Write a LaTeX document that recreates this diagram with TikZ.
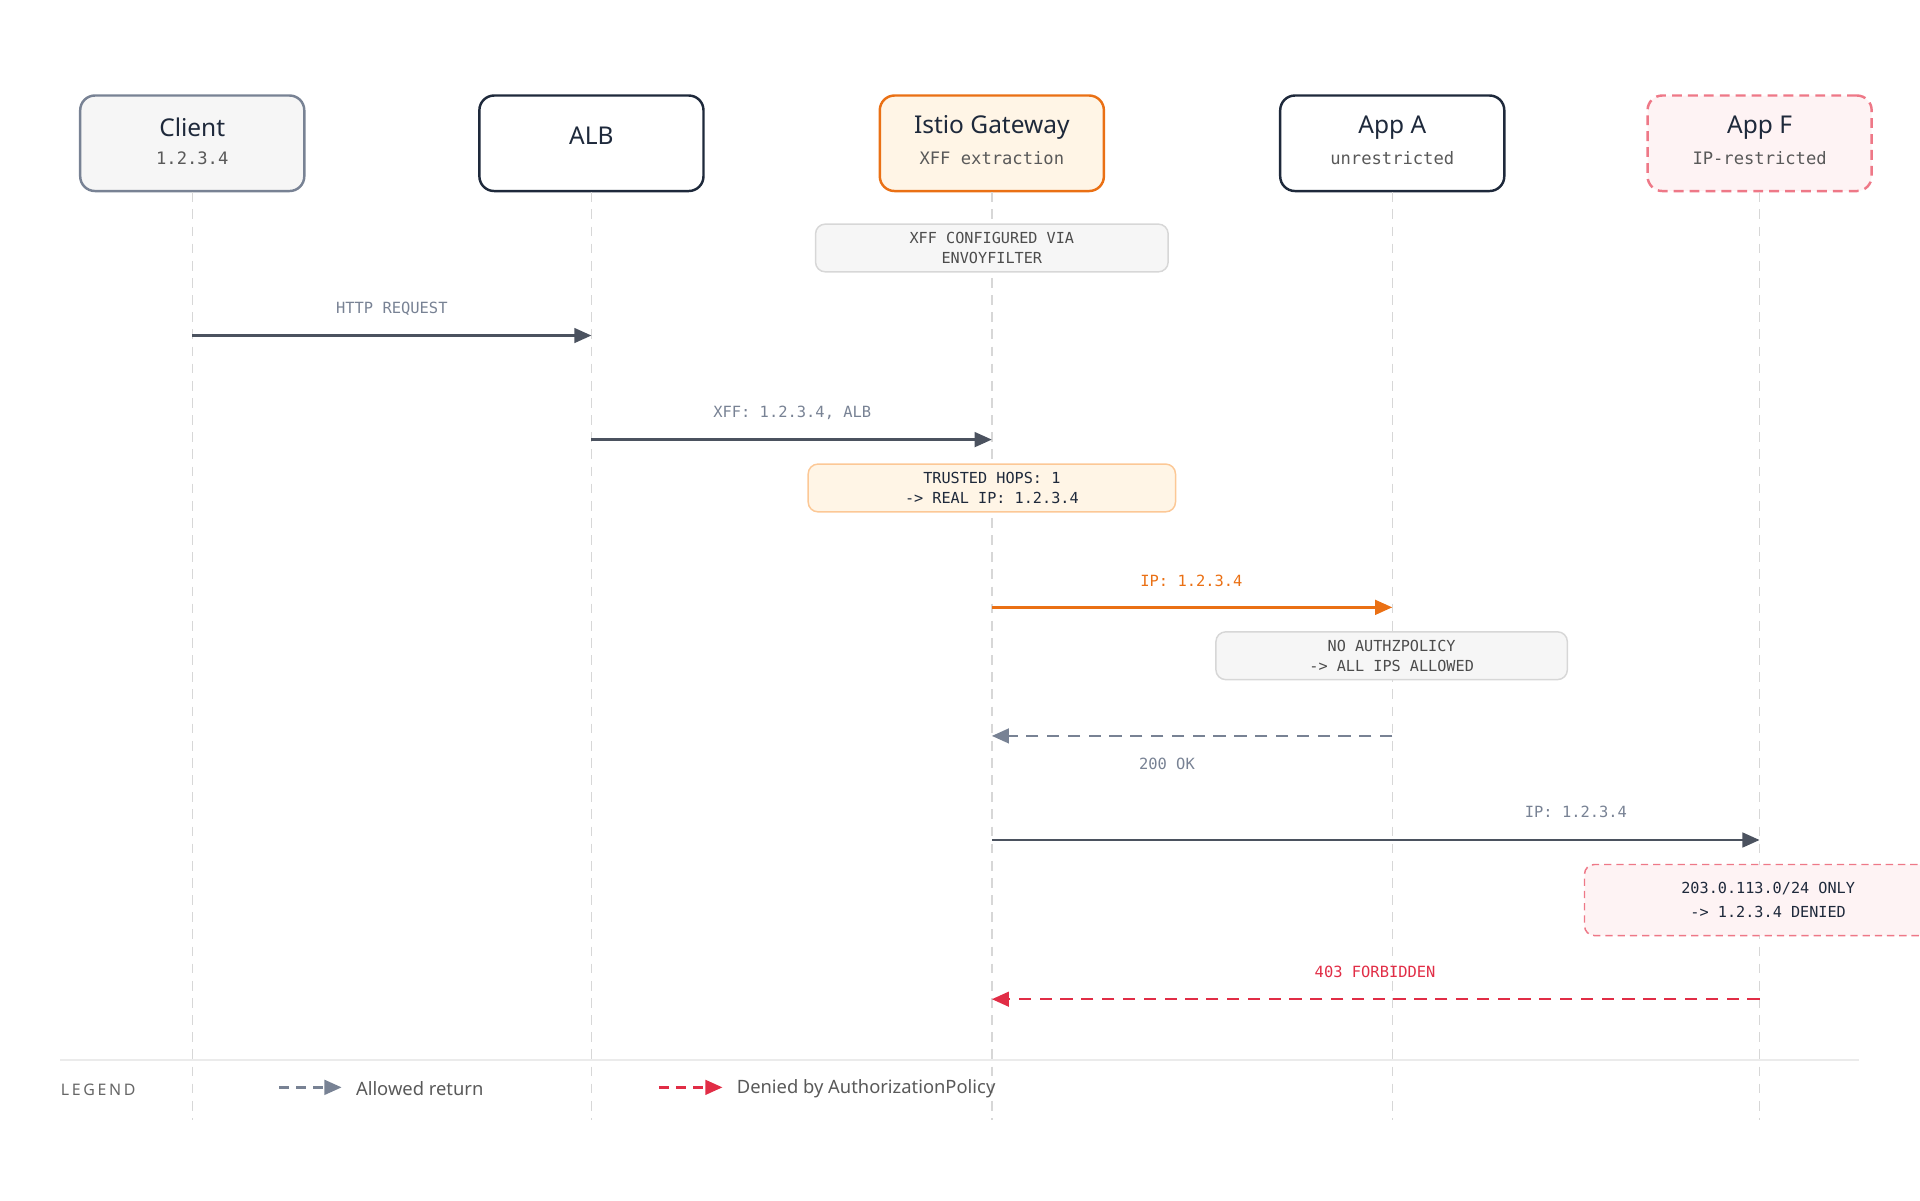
\documentclass[tikz,border=0pt]{standalone}
\usepackage{fontspec}
\setmainfont{Noto Sans}
\newfontfamily\monof{DejaVu Sans Mono}
\usetikzlibrary{arrows.meta}
\definecolor{ink}{RGB}{30,41,59}
\definecolor{slate}{RGB}{120,130,148}
\definecolor{msgc}{RGB}{75,82,95}
\definecolor{orng}{RGB}{234,112,20}
\definecolor{orngfill}{RGB}{255,245,230}
\definecolor{orngline}{RGB}{252,200,150}
\definecolor{redc}{RGB}{225,45,70}
\definecolor{pinkfill}{RGB}{254,243,244}
\definecolor{pinkline}{RGB}{238,120,135}
\definecolor{greyfill}{RGB}{246,246,246}
\definecolor{greyline}{RGB}{215,215,215}
\tikzset{every picture/.style={line width=0.75pt}}
\tikzset{
  actor/.style={rounded corners=6pt,minimum width=91.5pt,minimum height=39pt,line width=1pt,align=center,inner sep=0pt},
  life/.style={dash pattern=on 4pt off 3pt,color=greyline,line width=0.6pt},
  note/.style={rounded corners=4pt,align=center,font=\monof\fontsize{6.2}{8}\selectfont,inner sep=0pt,line width=0.6pt},
  msg/.style={-{Triangle[length=7pt,width=6pt]},line width=1pt},
  lbl/.style={font=\monof\fontsize{6.3}{8}\selectfont},
  ttl/.style={font=\bfseries\fontsize{10}{12}\selectfont,text=ink},
  sub/.style={font=\monof\fontsize{7}{9}\selectfont,text=black!65}
}
\begin{document}
\begin{tikzpicture}[x=0.5pt,y=0.5pt,yscale=-1,xscale=1]
\useasboundingbox (0,0) rectangle (1568,980);

% Actors
\node [actor,draw=slate,fill=greyfill] (client) at (157,117) {};
\node [actor,draw=ink,fill=white] (alb) at (483,117) {};
\node [actor,draw=orng,fill=orngfill] (gw) at (810,117) {};
\node [actor,draw=ink,fill=white] (appa) at (1137,117) {};
\node [actor,draw=pinkline,fill=pinkfill,dash pattern=on 4pt off 2.5pt] (appf) at (1437,117) {};
\node [ttl] (clientT) at (157,104) {Client};
\node [sub] (clientS) at (157,129) {1.2.3.4};
\node [ttl] (albT) at (483,111) {ALB};
\node [ttl] (gwT) at (810,104) {Istio Gateway};
\node [sub] (gwS) at (810,129) {XFF extraction};
\node [ttl] (appaT) at (1137,104) {App A};
\node [sub] (appaS) at (1137,129) {unrestricted};
\node [ttl] (appfT) at (1437,104) {App F};
\node [sub] (appfS) at (1437,129) {IP-restricted};

% Lifelines
\foreach \a/\x in {client/157,alb/483,gw/810,appa/1137,appf/1437}{
  \coordinate (\a end) at (\x,915);
  \draw [life] (\a.south) -- (\a end);
  \foreach \y in {274,359,496,601,686,816}{ \coordinate (\a\y) at (\x,\y); }
}

% Notes
\node [note,draw=greyline,fill=greyfill,minimum width=144pt,minimum height=19.5pt,text=black!70] (n1) at (810,202.5) {XFF CONFIGURED VIA\\ENVOYFILTER};
\node [note,draw=orngline,fill=orngfill,minimum width=150pt,minimum height=19.5pt,text=ink] (n2) at (810,398.5) {TRUSTED HOPS: 1\\-> REAL IP: 1.2.3.4};
\node [note,draw=greyline,fill=greyfill,minimum width=143.5pt,minimum height=19.5pt,text=black!70] (n3) at (1136.5,535.5) {NO AUTHZPOLICY\\-> ALL IPS ALLOWED};
\node [note,draw=pinkline,fill=pinkfill,dash pattern=on 3pt off 2pt,minimum width=150pt,minimum height=29pt,text=ink] (n4) at (1444,735) {203.0.113.0/24 ONLY\\[2pt]-> 1.2.3.4 DENIED};

% Messages
\draw [msg,color=msgc] (client274) -- (alb274);
\node [lbl,text=slate] (m1) at (320,252) {HTTP REQUEST};
\draw [msg,color=msgc] (alb359) -- (gw359);
\node [lbl,text=slate] (m2) at (647,337) {XFF: 1.2.3.4, ALB};
\draw [msg,color=orng] (gw496) -- (appa496);
\node [lbl,text=orng] (m3) at (973,474) {IP: 1.2.3.4};
\draw [msg,color=slate,dash pattern=on 5pt off 3.5pt] (appa601) -- (gw601);
\node [lbl,text=slate] (m4) at (953,624) {200 OK};
\draw [msg,color=msgc] (gw686) -- (appf686);
\node [lbl,text=slate] (m5) at (1287,663) {IP: 1.2.3.4};
\draw [msg,color=redc,dash pattern=on 5pt off 3.5pt] (appf816) -- (gw816);
\node [lbl,text=redc] (m6) at (1123,794) {403 FORBIDDEN};

% Legend
\draw [color=black!8,line width=0.8pt] (49,866) -- (1518,866);
\node [anchor=west,inner sep=0pt,font=\fontsize{6.5}{8}\selectfont,text=black!60] (leg) at (49,890) {L\,E\,G\,E\,N\,D};
\coordinate (la1) at (228,888);
\coordinate (la2) at (279,888);
\draw [msg,color=slate,dash pattern=on 4pt off 3pt] (la1) -- (la2);
\node [anchor=west,inner sep=0pt,font=\fontsize{7.5}{9}\selectfont,text=black!65] (legA) at (290,889) {Allowed return};
\coordinate (lb1) at (538,888);
\coordinate (lb2) at (590,888);
\draw [msg,color=redc,dash pattern=on 4pt off 3pt] (lb1) -- (lb2);
\node [anchor=west,inner sep=0pt,font=\fontsize{7.5}{9}\selectfont,text=black!65] (legB) at (601,889) {Denied by AuthorizationPolicy};
\end{tikzpicture}
\end{document}
